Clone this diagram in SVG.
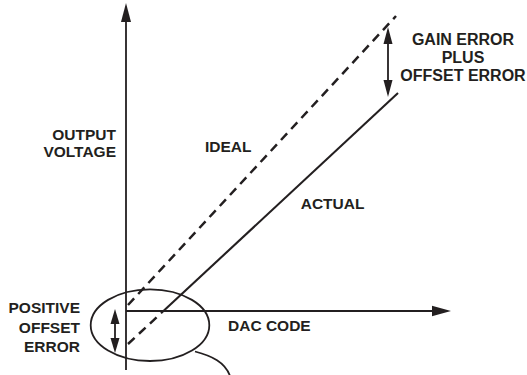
<svg xmlns="http://www.w3.org/2000/svg" width="527" height="375" viewBox="0 0 527 375">
<defs>
<style>
.ln{stroke:#231f20;stroke-width:1.8;fill:none}
.dl{stroke-width:2.1}
.dash{stroke-width:2.5;stroke-dasharray:9,6}
.t{font-family:"Liberation Sans",Arial,sans-serif;font-weight:bold;font-size:15.5px;fill:#231f20}
.g{font-size:16px}
.hd{fill:#231f20}
</style>
</defs>
<rect width="527" height="375" fill="#fff"/>
<g id="connectors">
<line class="ln" x1="126" y1="370" x2="126" y2="18"/>
<polygon class="hd" points="126,3 131,22 121,22"/>
<line class="ln" x1="126" y1="311" x2="436" y2="311"/>
<polygon class="hd" points="451,311 432,305.8 432,316.2"/>
<line class="ln dl dash" x1="128" y1="305" x2="396" y2="16"/>
<line class="ln dl dash" x1="128" y1="344" x2="161" y2="313.3"/>
<line class="ln dl" x1="161" y1="313.3" x2="398" y2="93"/>
<line class="ln" x1="388" y1="38" x2="388" y2="86"/>
<polygon class="hd" points="388,27 392.5,44 383.5,44"/>
<polygon class="hd" points="388,97 392.5,80 383.5,80"/>
<line class="ln" x1="115" y1="320" x2="115" y2="342"/>
<polygon class="hd" points="115,309 119.5,324 110.5,324"/>
<polygon class="hd" points="115,353 119.5,338 110.5,338"/>
<ellipse class="ln" cx="150" cy="325.2" rx="59.3" ry="35.8"/>
<path class="ln" d="M195,351.5 C212,356 225,362 230,376"/>
</g>
<g id="output-voltage">
<text class="t" x="116" y="139.5" text-anchor="end">OUTPUT</text>
<text class="t" x="116" y="157" text-anchor="end">VOLTAGE</text>
</g>
<g id="ideal"><text class="t" x="205" y="151.7">IDEAL</text></g>
<g id="actual"><text class="t" x="300.7" y="209">ACTUAL</text></g>
<g id="positive-offset-error">
<text class="t" x="80" y="312.7" text-anchor="end">POSITIVE</text>
<text class="t" x="80" y="332.5" text-anchor="end">OFFSET</text>
<text class="t" x="80" y="352" text-anchor="end">ERROR</text>
</g>
<g id="gain-error">
<text class="t g" x="463" y="45" text-anchor="middle">GAIN ERROR</text>
<text class="t g" x="463" y="62.7" text-anchor="middle">PLUS</text>
<text class="t g" x="463" y="81" text-anchor="middle">OFFSET ERROR</text>
</g>
<g id="dac-code"><text class="t" x="228" y="330.5">DAC CODE</text></g>
</svg>
